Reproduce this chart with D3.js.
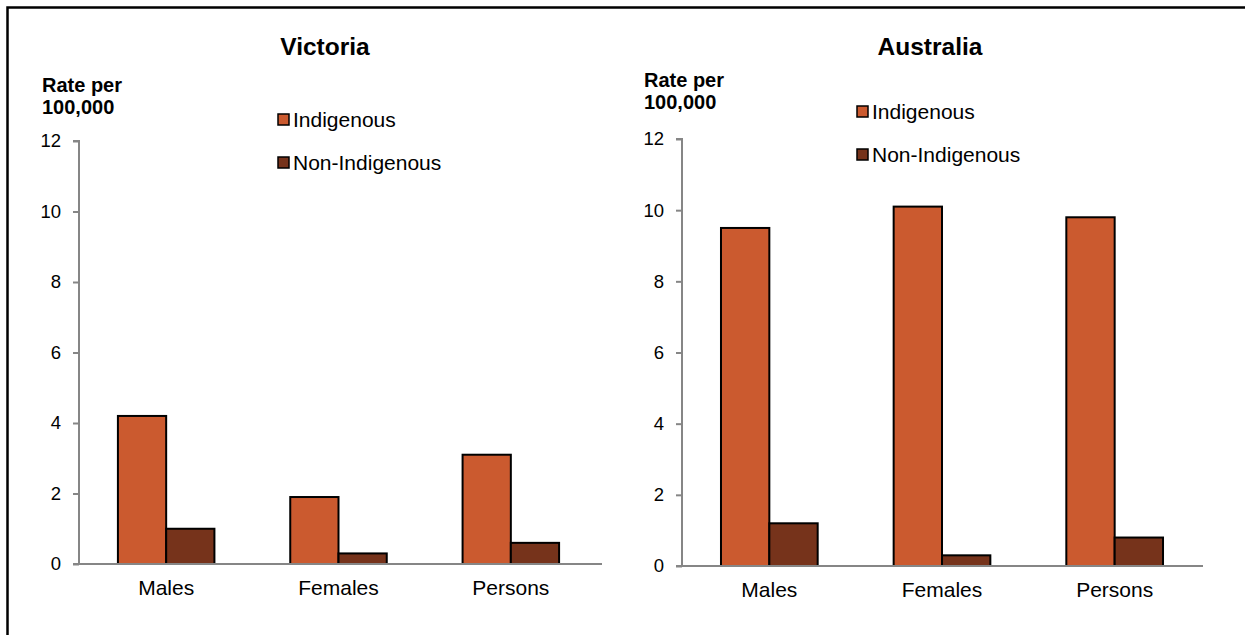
<!DOCTYPE html>
<html>
<head>
<meta charset="utf-8">
<script src="https://cdn.jsdelivr.net/npm/d3@7"></script>
<style>
    body { margin: 0; background: #fff; }
    svg text { font-family: "Liberation Sans", Arial, sans-serif; fill: #000; }
</style>
</head>
<body>
<div id="chart"></div>
<script>
// data
const categories = ["Males", "Females", "Persons"];
const seriesNames = ["Indigenous", "Non-Indigenous"];
const victoriaIndigenous = [4.2, 1.9, 3.1];
const victoriaNonIndigenous = [1.0, 0.3, 0.6];
const australiaIndigenous = [9.5, 10.1, 9.8];
const australiaNonIndigenous = [1.2, 0.3, 0.8];
const yTicks = [0, 2, 4, 6, 8, 10, 12];

const colors = ["#cb5a2f", "#76331b"];

let svg = d3.select("#chart").append("svg")
    .attr("width", 1245)
    .attr("height", 635);

// outer frame (only top and left edge visible)
svg.append("path")
    .attr("d", "M7.5,640 L7.5,7.5 L1250,7.5")
    .attr("fill", "none")
    .attr("stroke", "#000")
    .attr("stroke-width", 2.5);

function drawPanel(opts) {
    let g = svg.append("g");

    let x = d3.scaleBand()
        .domain(categories)
        .range([opts.left + 1, opts.bandRight])
        .paddingInner(0.44)
        .paddingOuter(0.22);

    let x1 = d3.scaleBand()
        .domain(seriesNames)
        .range([0, x.bandwidth()]);

    let y = d3.scaleLinear()
        .domain([0, 12])
        .range([opts.bottom, opts.top]);

    // title
    g.append("text")
        .attr("x", opts.titleX)
        .attr("y", opts.titleY)
        .attr("text-anchor", "middle")
        .attr("font-size", "24.5px")
        .attr("font-weight", "bold")
        .text(opts.title);

    // y axis label
    g.append("text")
        .attr("x", opts.labelX)
        .attr("y", opts.labelY)
        .attr("font-size", "20px")
        .attr("font-weight", "bold")
        .text("Rate per");
    g.append("text")
        .attr("x", opts.labelX)
        .attr("y", opts.labelY + 22)
        .attr("font-size", "20px")
        .attr("font-weight", "bold")
        .text("100,000");

    // y axis
    let yAxis = d3.axisLeft(y)
        .tickValues(yTicks)
        .tickSize(6)
        .tickPadding(12);
    let ya = g.append("g")
        .attr("transform", `translate(${opts.left},0)`)
        .call(yAxis);
    ya.select(".domain").attr("stroke", "#868686").attr("stroke-width", 2).attr("d", `M-6,${y(12)}H0V${y(0)}`);
    ya.selectAll(".tick line").attr("stroke", "#868686").attr("stroke-width", 2);
    ya.selectAll(".tick text").attr("font-size", "18.5px").attr("font-family", "Liberation Sans, Arial, sans-serif");

    // bars
    let groups = g.selectAll(".grp")
        .data(categories.map((c, i) => ({cat: c, vals: [opts.s1[i], opts.s2[i]]})))
        .enter().append("g")
        .attr("class", "grp")
        .attr("transform", d => `translate(${x(d.cat)},0)`);

    groups.selectAll("rect")
        .data(d => d.vals.map((v, j) => ({name: seriesNames[j], v: v, j: j})))
        .enter().append("rect")
        .attr("x", d => x1(d.name))
        .attr("y", d => y(d.v))
        .attr("width", x1.bandwidth())
        .attr("height", d => y(0) - y(d.v))
        .attr("fill", d => colors[d.j])
        .attr("stroke", "#000")
        .attr("stroke-width", 2);

    // x axis (baseline + labels)
    let xAxis = d3.axisBottom(x)
        .tickSize(0)
        .tickPadding(16);
    let xa = g.append("g")
        .attr("transform", `translate(0,${y(0)})`)
        .call(xAxis);
    xa.select(".domain").attr("stroke", "#868686").attr("stroke-width", 2).attr("d", `M${opts.left - 6},0H${opts.right}`);
    xa.selectAll(".tick text").attr("font-size", "21px").attr("font-family", "Liberation Sans, Arial, sans-serif");

    // legend
    let leg = g.selectAll(".leg")
        .data(seriesNames)
        .enter().append("g")
        .attr("class", "leg")
        .attr("transform", (d, i) => `translate(${opts.legX},${opts.legY + i * 43})`);
    leg.append("rect")
        .attr("x", 0)
        .attr("y", -6)
        .attr("width", 11)
        .attr("height", 11)
        .attr("fill", (d, i) => colors[i])
        .attr("stroke", "#000")
        .attr("stroke-width", 1.5);
    leg.append("text")
        .attr("x", 15)
        .attr("y", 0)
        .attr("dy", "0.35em")
        .attr("font-size", "21px")
        .text(d => d);
}

drawPanel({
    title: "Victoria", titleX: 325, titleY: 55,
    labelX: 42, labelY: 92,
    left: 79, right: 602, bandRight: 597, top: 141, bottom: 564,
    legX: 278, legY: 120,
    s1: victoriaIndigenous, s2: victoriaNonIndigenous
});

drawPanel({
    title: "Australia", titleX: 930, titleY: 55,
    labelX: 644, labelY: 87,
    left: 682, right: 1203, bandRight: 1201, top: 139, bottom: 566,
    legX: 857, legY: 112,
    s1: australiaIndigenous, s2: australiaNonIndigenous
});
</script>
</body>
</html>
